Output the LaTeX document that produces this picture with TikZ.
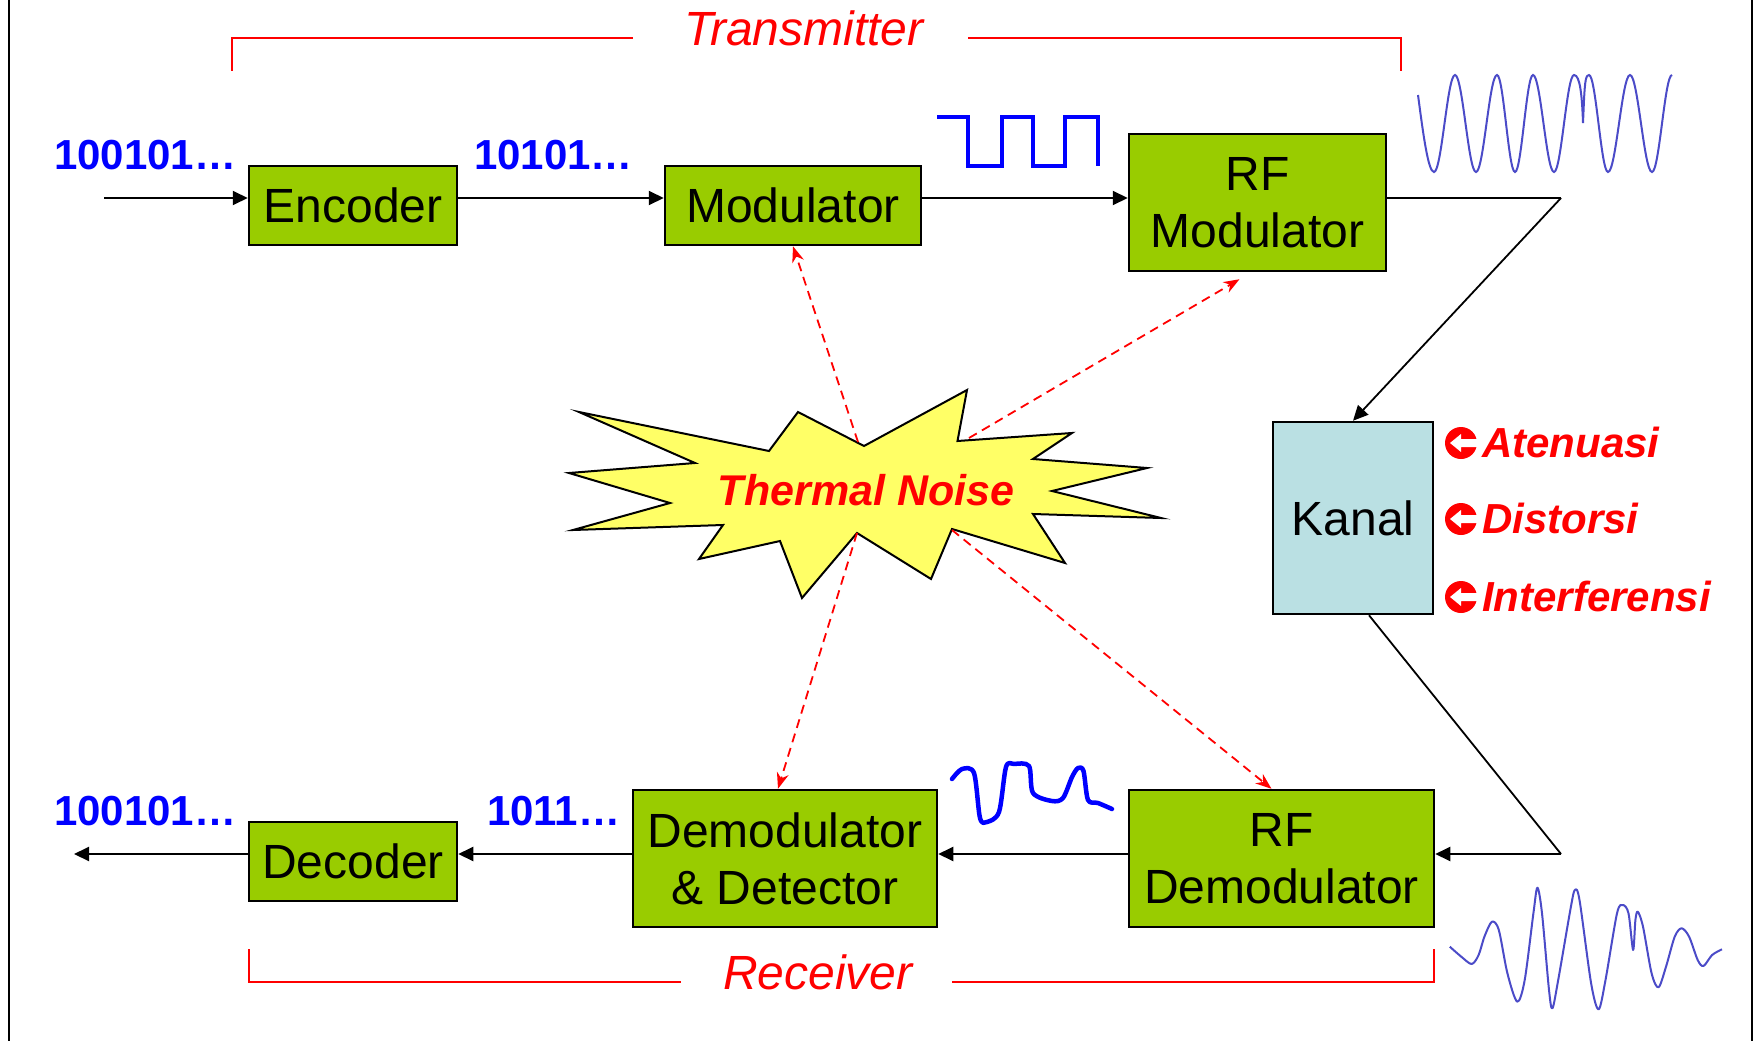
\documentclass[tikz,border=0pt]{standalone}
\usepackage{fontspec}
\setmainfont{Liberation Sans}
\usetikzlibrary{arrows.meta,calc}
\definecolor{boxgreen}{HTML}{99CC00}
\definecolor{kanalblue}{HTML}{BAE0E3}
\definecolor{burst}{HTML}{FFFF66}
\definecolor{wave}{HTML}{4B4BC8}
\begin{document}
\begin{tikzpicture}[x=1pt,y=-1pt,
  blk/.style={draw=black,line width=2.5pt,fill=boxgreen,inner sep=0pt,align=center,font=\fontsize{48}{57}\selectfont},
  conn/.style={line width=2pt,-{Triangle[length=15pt,width=14pt]}},
  plainline/.style={line width=1.8pt},
  noise/.style={red,line width=1.8pt,dash pattern=on 9pt off 6pt,-{Stealth[length=16pt,width=12pt]}},
  bits/.style={text=blue,font=\fontsize{42}{50}\selectfont\bfseries,anchor=base west,inner sep=0pt},
  effect/.style={text=red,font=\fontsize{42}{50}\selectfont\bfseries\itshape,anchor=base west,inner sep=0pt},
  section/.style={text=red,font=\fontsize{48}{57}\selectfont\itshape,anchor=base,inner sep=0pt},
  bracket/.style={red,line width=2pt},
  effmark/.pic={
    \fill[red] (0,0) circle (16);
    \fill[white] (-11,0) -- (0,-9) -- (0,-4) -- (17,-4) -- (17,4) -- (0,4) -- (0,9) -- cycle;
  }]
\useasboundingbox (0,0) rectangle (1754,1041);
\fill[white] (0,0) rectangle (1754,1041);
% frame sides
\draw[line width=2pt] (9,0) -- (9,1041);
\draw[line width=2pt] (1752,0) -- (1752,1041);

% brackets
\draw[bracket] (232,71) -- (232,38) -- (633,38);
\draw[bracket] (968,38) -- (1401,38) -- (1401,71);
\node[section] (tx) at (804,46) {Transmitter};
\draw[bracket] (249,949) -- (249,982) -- (681,982);
\draw[bracket] (952,982) -- (1434,982) -- (1434,949);
\node[section] (rx) at (818,989) {Receiver};

% blocks
\node[blk,minimum width=208pt,minimum height=79pt] (enc) at (353,205.5) {Encoder};
\node[blk,minimum width=256pt,minimum height=79pt] (mod) at (793,205.5) {Modulator};
\node[blk,minimum width=257pt,minimum height=137pt] (rfm) at (1257.5,202.5) {RF\\Modulator};
\node[draw=black,line width=2.5pt,fill=kanalblue,inner sep=0pt,minimum width=160pt,minimum height=192pt,font=\fontsize{48}{57}\selectfont] (kanal) at (1353,518) {Kanal};
\node[blk,minimum width=305pt,minimum height=137pt] (rfd) at (1281.5,858.5) {RF\\Demodulator};
\node[blk,minimum width=304pt,minimum height=137pt] (dd) at (785,858.5) {Demodulator\\\& Detector};
\node[blk,minimum width=208pt,minimum height=79pt] (dec) at (353,861.5) {Decoder};

% bit labels
\node[bits] (b1) at (54,169) {100101…};
\node[bits] (b2) at (474,169) {10101…};
\node[bits] (b3) at (54,825) {100101…};
\node[bits] (b4) at (487,825) {1011…};

% connectors
\coordinate (in) at (104,198);
\coordinate (c1) at (1561,198);
\coordinate (c2) at (1561,854);
\coordinate (out) at (74,854);
\draw[conn] (in) -- (in -| enc.west);
\draw[conn] (enc.east |- in) -- (mod.west |- in);
\draw[conn] (mod.east |- in) -- (rfm.west |- in);
\draw[plainline] (rfm.east |- in) -- (c1);
\draw[conn,line width=1.8pt] (c1) -- (kanal.north);
\draw[plainline] ([xshift=16pt]kanal.south) -- (c2);
\draw[conn] (c2) -- (c2 -| rfd.east);
\draw[conn] (rfd.west |- c2) -- (dd.east |- c2);
\draw[conn] (dd.west |- c2) -- (dec.east |- c2);
\draw[conn] (dec.west |- c2) -- (out);

% thermal noise burst
\draw[fill=burst,line width=2pt,line join=miter]
 (579,412) -- (769,451) -- (798,412) -- (864,446) -- (967,390) -- (957.5,441)
 -- (1072,433) -- (1033,459) -- (1147,468) -- (1052,491) -- (1161,518)
 -- (1033,514) -- (1065,563) -- (952,529) -- (931,579) -- (857,533)
 -- (802,598) -- (780,541) -- (699,559) -- (723,525) -- (573,530)
 -- (670,503) -- (569,473) -- (695,463) -- cycle;
\node[text=red,font=\fontsize{43}{50}\selectfont\bfseries\itshape,inner sep=0pt,anchor=base] (tn) at (866,505) {Thermal Noise};
\coordinate (nA) at (858,442);
\coordinate (nB) at (969,438);
\coordinate (nC) at (857,533);
\coordinate (nD) at (952,530);
\draw[noise] (nA) -- (mod.south);
\draw[noise] (nB) -- ([xshift=-18pt,yshift=-7pt]rfm.south);
\draw[noise] (nC) -- ([xshift=-7pt]dd.north);
\draw[noise] (nD) -- ([xshift=-10pt]rfd.north);

% channel effects
\pic at (1461,443) {effmark};
\pic at (1461,519) {effmark};
\pic at (1461,597) {effmark};
\node[effect] (e1) at (1482,457) {Atenuasi};
\node[effect] (e2) at (1482,533) {Distorsi};
\node[effect] (e3) at (1482,611) {Interferensi};

% square wave
\draw[blue,line width=4pt,line join=miter] (937,117) -- (968,117) -- (968,166) -- (1002,166) -- (1002,117) -- (1033,117) -- (1033,166) -- (1065,166) -- (1065,117) -- (1098,117) -- (1098,166);

% transmitted RF wave
\draw[wave,line width=2pt] (1418,95) sin (1434,172)
 cos (1444.5,123.5) sin (1455,75) cos (1465.5,123.5) sin (1476,172)
 cos (1486.5,123.5) sin (1497,75) cos (1506,123.5) sin (1515,172)
 cos (1524,123.5) sin (1533,75) cos (1543.5,123.5) sin (1554,172)
 cos (1564,123.5) sin (1574,75)
 .. controls (1580,75) and (1582,95) .. (1583,123) -- (1584,100)
 .. controls (1585,80) and (1586,75) .. (1589,75)
 cos (1598.5,123.5) sin (1608,172) cos (1619,123.5) sin (1630,75)
 cos (1641,123.5) sin (1652,172) cos (1662,123.5) sin (1672,75);

% demodulated wave
\draw[blue,line width=4.5pt,line cap=round,line join=round] plot[smooth,tension=0.5] coordinates {
 (952,779) (962,769) (974,773) (980,818) (987,822) (999,812) (1006,767) (1014,764) (1029,766) (1033,793) (1052,801) (1063,798) (1072,777) (1078,768) (1083.5,771) (1088,800) (1098,803) (1112,809)};

% received RF wave
\draw[wave,line width=2pt,line join=round] plot[smooth,tension=0.5] coordinates {
 (1449.8,946.7) (1461.3,956.7) (1471.7,964) (1478.6,955) (1484.4,936.7) (1491.9,921.7) (1498.8,930)
 (1507.4,973.3) (1517.2,1001.7) (1524.7,980) (1533.4,913.3) (1537.4,887.7) (1542,913.3) (1549,990)
 (1552.4,1008.3) (1558.2,980) (1570.9,906.7) (1574.9,890) (1579.5,900) (1591.1,983.3) (1598.6,1009.3)
 (1605.5,980) (1617,913.3) (1622.8,905) (1628.5,913.3) (1633.1,950) (1635.4,920) (1637.8,911.7)
 (1643,926.7) (1651.6,973.3) (1658.5,987.3) (1666,966.7) (1674.7,936.7) (1681.6,928.3) (1689.1,936.7)
 (1697.7,960) (1703.5,966) (1712.1,955) (1721.9,949.3)};
\end{tikzpicture}
\end{document}
